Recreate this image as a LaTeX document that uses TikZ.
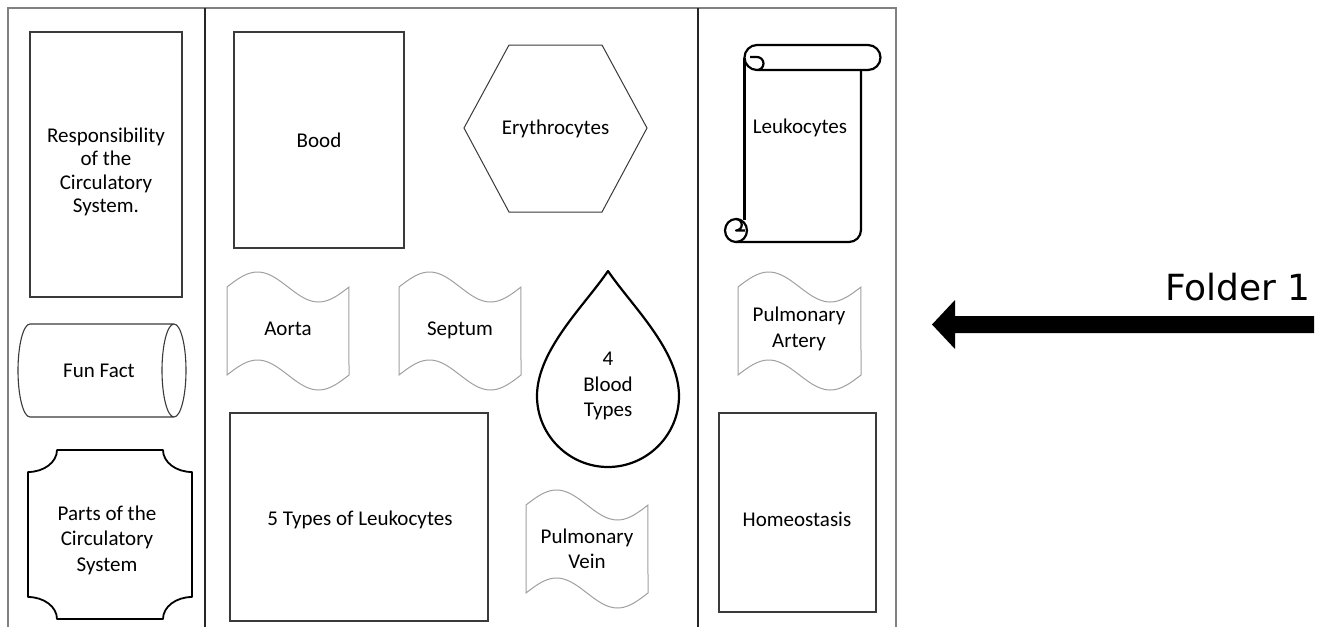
\documentclass[tikz,border=0pt]{standalone}
\usepackage{fontspec}
\setmainfont{Carlito}
\newfontfamily\foldfont{DejaVu Sans}
\definecolor{framegray}{HTML}{808080}
\definecolor{divider}{HTML}{262626}
\definecolor{boxline}{HTML}{3A3A3A}
\definecolor{waveline}{HTML}{A0A0A0}
\newcommand{\wavepath}[4]{%
  \draw[wavestyle] plot[domain=0:1,samples=41,smooth] ({#1+#3*\x},{#2-15*sin(360*\x)})
    -- plot[domain=1:0,samples=41,smooth] ({#1+#3*\x},{#2+#4-15*sin(360*\x)}) -- cycle;}
\begin{document}
\begin{tikzpicture}[x=1pt,y=-1pt,
  lbl/.style={font=\fontsize{21}{25.5}\selectfont, align=center, text=black, inner sep=0pt},
  framestyle/.style={draw=framegray, line width=2pt},
  dividerstyle/.style={draw=divider, line width=1.5pt},
  plainbox/.style={draw=boxline, line width=1.2pt, inner sep=0pt, rectangle},
  wavestyle/.style={draw=waveline, line width=1pt},
  thickline/.style={draw=black, line width=2.2pt, line join=round},
  thinline/.style={draw=boxline, line width=1.1pt}]
\useasboundingbox (0,0) rectangle (1326,627);
\fill[white] (0,0) rectangle (1326,627);
% frame
\draw[framestyle] (8,627) -- (8,8) -- (896,8) -- (896,627);
\draw[dividerstyle] (205,8) -- (205,627);
\draw[dividerstyle] (698,8) -- (698,627);
% rectangles
\node[plainbox, minimum width=152pt, minimum height=265pt] (resp) at (106,164.5) {};
\node[lbl, font=\fontsize{21}{23.5}\selectfont] (resptext) at (106,172) {Responsibility\\of the\\Circulatory\\System.};
\node[plainbox, minimum width=170pt, minimum height=216pt] (bood) at (319,140) {};
\node[lbl] (boodtext) at (319,140) {Bood};
\node[plainbox, minimum width=258pt, minimum height=208pt] (five) at (359,517) {};
\node[lbl] (fivetext) at (360,520) {5 Types of Leukocytes};
\node[plainbox, minimum width=157pt, minimum height=199pt] (homeo) at (797.5,512.5) {};
\node[lbl] (homeotext) at (797,519) {Homeostasis};
% fun fact cylinder
\draw[thinline] (30,324) -- (174,324)
  (30,417) -- (174,417)
  (30,324) arc[start angle=270, end angle=90, x radius=12, y radius=46.5]
  (174,370.5) circle[x radius=12, y radius=46.5];
\node[lbl] (funtext) at (99,370.5) {Fun Fact};
% plaque
\draw[thickline, line width=1.8pt] (57,450) -- (163,450)
  arc[start angle=180, end angle=90, x radius=29, y radius=22] -- (192,597)
  arc[start angle=270, end angle=180, x radius=29, y radius=22] -- (57,619)
  arc[start angle=0, end angle=-90, x radius=29, y radius=22] -- (28,472)
  arc[start angle=90, end angle=0, x radius=29, y radius=22] -- cycle;
\node[lbl] (partstext) at (107,540) {Parts of the\\Circulatory\\System};
% hexagon
\draw[thinline, line width=1pt] (464,128) -- (509,45) -- (602,45) -- (647,128) -- (602,212) -- (509,212) -- cycle;
\node[lbl] (erytext) at (555.5,129) {Erythrocytes};
% scroll
\draw[thickline] (757,45) -- (868,45) arc[start angle=-90, end angle=90, radius=12.5] -- (757,70)
  (757,45) arc[start angle=270, end angle=90, radius=12.5]
  (757,70) arc[start angle=90, end angle=-90, radius=6.5] -- (750,57);
\draw[thickline] (744.5,57.5) -- (744.5,220);
\draw[thickline] (861,70) -- (861,230) arc[start angle=0, end angle=90, radius=12] -- (736,242);
\draw[thickline] (736,230.5) circle[x radius=11, y radius=11.5];
\draw[thickline] (736,219) arc[start angle=-90, end angle=90, radius=5.75] -- (745,230.5);
\node[lbl] (leutext) at (800,128) {Leukocytes};
% waves
\wavepath{227}{287}{122}{88}
\node[lbl] (aortatext) at (288,329) {Aorta};
\wavepath{399}{287}{122}{88}
\node[lbl] (septext) at (460,330) {Septum};
\wavepath{738}{287}{123}{88}
\node[lbl] (patext) at (799,329) {Pulmonary\\Artery};
\wavepath{526}{505}{122}{88}
\node[lbl] (pvtext) at (587,549) {Pulmonary\\Vein};
% drop
\draw[thickline] (608,271) .. controls (585,305) and (537,350) .. (537,396)
  .. controls (537,435) and (569,467) .. (608,467)
  .. controls (647,467) and (679,435) .. (679,396)
  .. controls (679,350) and (631,305) .. (608,271) -- cycle;
\node[lbl] (droptext) at (608,386) {4\\Blood\\Types};
% arrow
\fill[black] (1314,316) -- (955,316) -- (955,300) -- (932,324.5) -- (955,349) -- (955,333) -- (1314,333) -- cycle;
\node[font=\foldfont\fontsize{36}{40}\selectfont, anchor=base east, inner sep=0pt] (folder) at (1311,300) {Folder 1};
\end{tikzpicture}
\end{document}
